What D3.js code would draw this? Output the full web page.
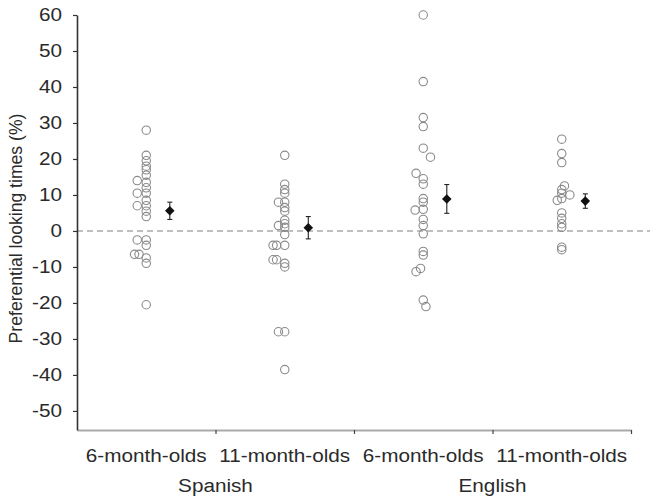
<!DOCTYPE html>
<html>
<head>
<meta charset="utf-8">
<script src="https://cdn.jsdelivr.net/npm/d3@7"></script>
<style>
  html, body { margin: 0; padding: 0; background: #fff; }
  svg text { font-family: "Liberation Sans", Arial, sans-serif; fill: #2a2a2a; }
</style>
</head>
<body>
<svg id="chart" width="663" height="504"></svg>
<script>
// ---------------- data ----------------
const groupLabels = ["6-month-olds", "11-month-olds", "6-month-olds", "11-month-olds"];
const languages = ["Spanish", "English"];
const yTicks = [-50, -40, -30, -20, -10, 0, 10, 20, 30, 40, 50, 60];

// individual preferential looking times (%)
const spanish6 = [28, 21, 19.5, 18, 17, 15.5, 14, 13.5, 12, 10.5, 10.5, 8.5, 7, 7, 5.5, 4, -2.5, -2.5, -4, -6.5, -6.5, -7.5, -9, -20.5];
const spanish6Jitter = [0, 0, 0, 0, 0, 0, -1, 0, 0, -1, 0, 0, -1, 0, 0, 0, -1, 0, 0, -1.3, -0.8, 0, 0, 0];

const spanish11 = [21, 13, 11.5, 10.5, 8, 8, 6.5, 5.5, 3, 2, 1.5, 1, -1, -4, -4, -4, -8, -8, -9, -10, -28, -28, -38.5];
const spanish11Jitter = [0, 0, 0, 0, -0.7, 0, 0, 0, 0, 0, -0.7, 0, 0, -1.3, -0.9, 0, -1.3, -0.9, 0, 0, -0.7, 0, 0];

const english6 = [60, 41.5, 31.5, 29, 23, 20.5, 16, 14.5, 13, 9, 8, 6, 5.8, 3.2, 1.5, -0.8, -5.7, -6.7, -10.4, -11.3, -19.2, -21];
const english6Jitter = [0, 0, 0, 0, 0, 0.8, -0.8, 0, 0, 0, 0, 0, -0.9, 0, 0, 0, 0, 0, -0.3, -0.8, 0, 0.3];

const english11 = [25.5, 21.5, 19, 12.5, 11.5, 10.5, 10, 9, 8.5, 5, 3.5, 2, 1, -4.5, -5.2];
const english11Jitter = [0, 0, 0, 0.3, 0, 0, 0.9, 0, -0.5, 0, 0, 0, 0, 0, 0];

const groupMeans = [5.6, 0.9, 8.9, 8.3];
const groupErrors = [2.4, 3.1, 4, 2];

// ---------------- layout ----------------
const svg = d3.select("#chart");
const W = 663, H = 504;
const margin = { left: 77, right: 32, top: 15, bottom: 74 };
const plotL = margin.left, plotR = W - margin.right, plotT = margin.top, plotB = H - margin.bottom;
const fontSize = 18;
const stretchX = 1.15;
const jitterPx = 9;

const x = d3.scaleBand().domain(d3.range(4)).range([plotL, plotR]).padding(0);
const xLin = d3.scaleLinear().domain([0, 4]).range([plotL, plotR]);
const y = d3.scaleLinear().domain([-55.3, 60]).range([plotB, plotT]);

function stretch(sel) {
  sel.each(function () {
    const len = this.getComputedTextLength();
    d3.select(this).attr("textLength", len * stretchX).attr("lengthAdjust", "spacingAndGlyphs");
  });
}

// zero reference line
svg.append("line")
  .attr("x1", plotL).attr("x2", 650)
  .attr("y1", y(0)).attr("y2", y(0))
  .attr("stroke", "#aaa").attr("stroke-width", 1.4)
  .attr("stroke-dasharray", "6,4");

// x axis: category labels
const xAxis = svg.append("g").attr("transform", `translate(0,${plotB})`)
  .call(d3.axisBottom(x).tickSize(0).tickPadding(19).tickFormat(i => groupLabels[i]));
xAxis.select(".domain").remove();
xAxis.selectAll("text").attr("font-size", fontSize).style("fill", "#2a2a2a").call(stretch);

// x axis line + boundary ticks
const xTickAxis = svg.append("g").attr("transform", `translate(0,${plotB})`)
  .call(d3.axisBottom(xLin).tickValues([1, 2, 3, 4]).tickSize(4).tickSizeOuter(0).tickFormat(""));
xTickAxis.select(".domain").attr("stroke", "#aaa").attr("stroke-width", 2);
xTickAxis.selectAll(".tick line").attr("stroke", "#444").attr("stroke-width", 1.2);

// language labels
svg.append("g").selectAll("text").data(languages).join("text")
  .attr("x", (d, i) => xLin(1 + 2 * i))
  .attr("y", 492)
  .attr("text-anchor", "middle")
  .attr("font-size", fontSize)
  .text(d => d)
  .call(stretch);

// y axis
const yAxis = svg.append("g").attr("transform", `translate(${plotL},0)`)
  .call(d3.axisLeft(y).tickValues(yTicks).tickSize(4).tickSizeOuter(0).tickPadding(11)
    .tickFormat(d => String(d)));
yAxis.select(".domain").attr("stroke", "#333").attr("stroke-width", 1.6);
yAxis.selectAll(".tick line").attr("stroke", "#333").attr("stroke-width", 1.2);
yAxis.selectAll("text").attr("font-size", fontSize).style("fill", "#2a2a2a").call(stretch);

// y title
svg.append("text")
  .attr("transform", `translate(22,${(plotT + plotB) / 2 + 6}) rotate(-90)`)
  .attr("text-anchor", "middle")
  .attr("font-size", 17.6)
  .text("Preferential looking times (%)");

// individual points
const groups = [
  [spanish6, spanish6Jitter],
  [spanish11, spanish11Jitter],
  [english6, english6Jitter],
  [english11, english11Jitter]
];
const pts = [];
groups.forEach(([vals, jit], g) => vals.forEach((v, i) => pts.push({ g, v, j: jit[i] })));

svg.append("g").selectAll("circle").data(pts).join("circle")
  .attr("cx", d => x(d.g) + x.bandwidth() / 2 + d.j * jitterPx)
  .attr("cy", d => y(d.v))
  .attr("r", 4.2)
  .attr("fill", "none")
  .attr("stroke", "#8a8a8a")
  .attr("stroke-width", 1.1);

// means with error bars
const meanOffset = x.bandwidth() * 0.17;
const means = groupMeans.map((m, g) => ({ g, m, e: groupErrors[g] }));
const mg = svg.append("g").selectAll("g").data(means).join("g")
  .attr("transform", d => `translate(${x(d.g) + x.bandwidth() / 2 + meanOffset},0)`);
mg.append("line")
  .attr("x1", 0).attr("x2", 0)
  .attr("y1", d => y(d.m + d.e)).attr("y2", d => y(d.m - d.e))
  .attr("stroke", "#222").attr("stroke-width", 1.1);
mg.selectAll("line.cap").data(d => [d.m + d.e, d.m - d.e]).join("line")
  .attr("class", "cap")
  .attr("x1", -2.5).attr("x2", 2.5)
  .attr("y1", v => y(v)).attr("y2", v => y(v))
  .attr("stroke", "#222").attr("stroke-width", 1.1);
mg.append("path")
  .attr("d", d3.symbol().type(d3.symbolSquare).size(46)())
  .attr("transform", d => `translate(0,${y(d.m)}) rotate(45)`)
  .attr("fill", "#111");
</script>
</body>
</html>
